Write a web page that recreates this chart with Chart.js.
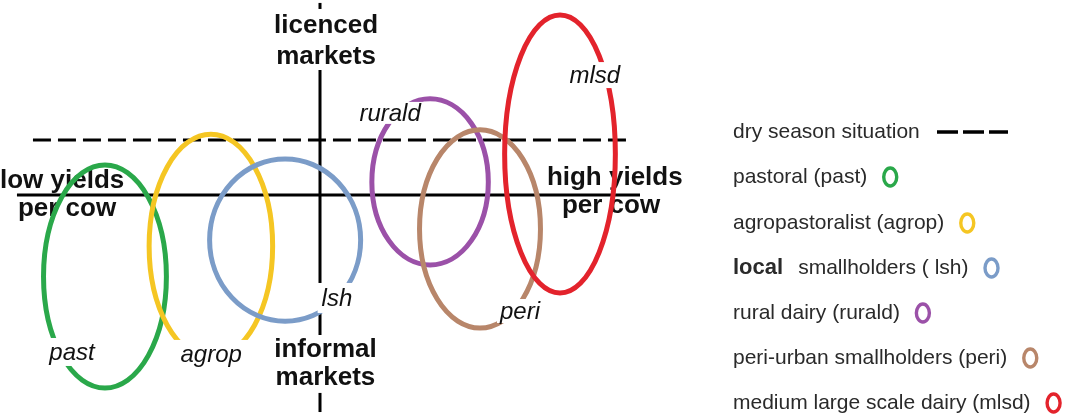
<!DOCTYPE html>
<html>
<head>
<meta charset="utf-8">
<script src="https://cdn.jsdelivr.net/npm/chart.js@4.4.1/dist/chart.umd.min.js"></script>
<style>
html,body{margin:0;padding:0;background:#fff;}
#wrap{width:1073px;height:416px;position:relative;overflow:hidden;}
canvas{display:block;}
</style>
</head>
<body>
<div id="wrap"><canvas id="c" width="1073" height="416"></canvas></div>
<script>
// ---- data (conceptual units: x = yield per cow, y = market type) ----
const groups = ['past', 'agrop', 'lsh', 'rurald', 'peri', 'mlsd'];
const groupNames = ['pastoral (past)', 'agropastoralist (agrop)', 'smallholders ( lsh)',
  'rural dairy (rurald)', 'peri-urban smallholders (peri)', 'medium large scale dairy (mlsd)'];
const yieldCentre  = [-6.72, -3.41, -1.09, 3.44, 5.00, 7.50];
const marketCentre = [-4.18, -2.62, -2.31, 0.67, -1.74, 2.10];
const yieldSpread  = [1.92, 1.93, 2.36, 1.82, 1.89, 1.73];
const marketSpread = [5.72, 5.74, 4.16, 4.26, 5.08, 7.13];
const labelYield   = [-7.75, -3.40, 0.53, 2.19, 6.25, 8.59];
const labelMarket  = [-8.05, -8.15, -5.28, 4.21, -5.95, 6.15];
const drySeasonLevel = 2.82;
const drySeasonText = 'dry season situation';
const axisTitles = {
  top: ['licenced', 'markets'],
  bottom: ['informal', 'markets'],
  left: ['low yields', 'per cow'],
  right: ['high yields', 'per cow']
};
const colours = ['#2aa84a', '#f5c623', '#7b9cc8', '#9b51a8', '#b8866a', '#e3232c'];

const FONT = '"Liberation Sans", Arial, sans-serif';

function line(ctx, x1, y1, x2, y2) {
  ctx.beginPath(); ctx.moveTo(x1, y1); ctx.lineTo(x2, y2); ctx.stroke();
}

const diagramPlugin = {
  id: 'diagram',
  beforeDatasetsDraw(chart) {
    const ctx = chart.ctx;
    const X = chart.scales.x, Y = chart.scales.y;
    const px = v => X.getPixelForValue(v), py = v => Y.getPixelForValue(v);
    ctx.save();
    ctx.strokeStyle = '#000';
    ctx.lineWidth = 3;
    ctx.lineCap = 'butt';
    // axes
    line(ctx, px(-9.47), py(0), px(10), py(0));
    line(ctx, px(0), py(9.85), px(0), py(9.54));
    line(ctx, px(0), py(6.41), px(0), py(-7.18));
    line(ctx, px(0), py(-10.15), px(0), py(-11.13));
    // dry season dashed line
    ctx.setLineDash([18, 7]);
    line(ctx, px(-8.97), py(drySeasonLevel), px(9.69), py(drySeasonLevel));
    ctx.setLineDash([]);
    // axis titles
    ctx.fillStyle = '#111';
    ctx.font = 'bold 26px ' + FONT;
    ctx.textBaseline = 'middle';
    ctx.textAlign = 'center';
    ctx.fillText(axisTitles.top[0], px(0.19), py(8.65));
    ctx.fillText(axisTitles.top[1], px(0.19), py(7.1));
    ctx.fillText(axisTitles.bottom[0], px(0.17), py(-7.95));
    ctx.fillText(axisTitles.bottom[1], px(0.17), py(-9.38));
    ctx.textAlign = 'left';
    ctx.fillText(axisTitles.left[0], px(-10), py(0.72));
    ctx.fillText(axisTitles.left[1], px(-9.44), py(-0.7));
    ctx.fillText(axisTitles.right[0], px(7.09), py(0.9));
    ctx.fillText(axisTitles.right[1], px(7.56), py(-0.53));
    ctx.restore();
  },
  afterDatasetsDraw(chart) {
    const ctx = chart.ctx;
    const X = chart.scales.x, Y = chart.scales.y;
    const px = v => X.getPixelForValue(v), py = v => Y.getPixelForValue(v);
    ctx.save();
    // ellipses, one per dataset
    chart.data.datasets.forEach((ds, i) => {
      const p = ds.data[0];
      const cx = px(p.x), cy = py(p.y);
      const rx = Math.abs(px(p.x + yieldSpread[i]) - cx);
      const ry = Math.abs(py(p.y + marketSpread[i]) - cy);
      ctx.beginPath();
      ctx.ellipse(cx, cy, rx, ry, 0, 0, Math.PI * 2);
      ctx.strokeStyle = ds.borderColor;
      ctx.lineWidth = 5;
      ctx.stroke();
    });
    // italic group labels with white backing
    ctx.font = 'italic 24px ' + FONT;
    ctx.textBaseline = 'middle';
    ctx.textAlign = 'center';
    const pads = [[4, 14], [8, 14], [4, 15], [4, 11], [3, 12], [3, 13]];
    groups.forEach((g, i) => {
      const lx = px(labelYield[i]), ly = py(labelMarket[i]);
      const w = ctx.measureText(g).width;
      ctx.fillStyle = '#fff';
      ctx.fillRect(lx - w / 2 - pads[i][0], ly - pads[i][1], w + 2 * pads[i][0], 2 * pads[i][1]);
      ctx.fillStyle = '#111';
      ctx.fillText(g, lx, ly + 1);
    });
    // legend
    const lx0 = 733;
    const rows = [132, 177, 223, 268, 313, 358, 403];
    ctx.textAlign = 'left';
    ctx.fillStyle = '#2a2a2a';
    ctx.font = '21px ' + FONT;
    ctx.fillText(drySeasonText, lx0, rows[0]);
    ctx.strokeStyle = '#000';
    ctx.lineWidth = 3.5;
    ctx.setLineDash([21, 5]);
    line(ctx, 937, rows[0], 1008, rows[0]);
    ctx.setLineDash([]);
    groups.forEach((g, i) => {
      const yy = rows[i + 1];
      let x = lx0;
      ctx.fillStyle = '#2a2a2a';
      if (i === 2) {
        ctx.font = 'bold 22px ' + FONT;
        ctx.fillText('local', x, yy);
        x += ctx.measureText('local').width + 15;
      }
      ctx.font = '21px ' + FONT;
      ctx.fillText(groupNames[i], x, yy);
      const end = x + ctx.measureText(groupNames[i]).width;
      ctx.beginPath();
      ctx.ellipse(end + 23, yy, 6.5, 9, 0, 0, Math.PI * 2);
      ctx.strokeStyle = colours[i];
      ctx.lineWidth = 3.4;
      ctx.stroke();
    });
    ctx.restore();
  }
};

const chart = new Chart(document.getElementById('c'), {
  type: 'scatter',
  data: {
    datasets: groups.map((g, i) => ({
      label: groupNames[i],
      data: [{ x: yieldCentre[i], y: marketCentre[i] }],
      borderColor: colours[i],
      backgroundColor: colours[i],
      pointRadius: 0,
      pointHoverRadius: 0
    }))
  },
  options: {
    responsive: false,
    animation: false,
    events: [],
    layout: { padding: { left: 0, top: 0, right: 433, bottom: 26 } },
    scales: {
      x: { type: 'linear', min: -10, max: 10, display: false },
      y: { type: 'linear', min: -10, max: 10, display: false }
    },
    plugins: { legend: { display: false }, tooltip: { enabled: false } }
  },
  plugins: [diagramPlugin]
});
</script>
</body>
</html>
